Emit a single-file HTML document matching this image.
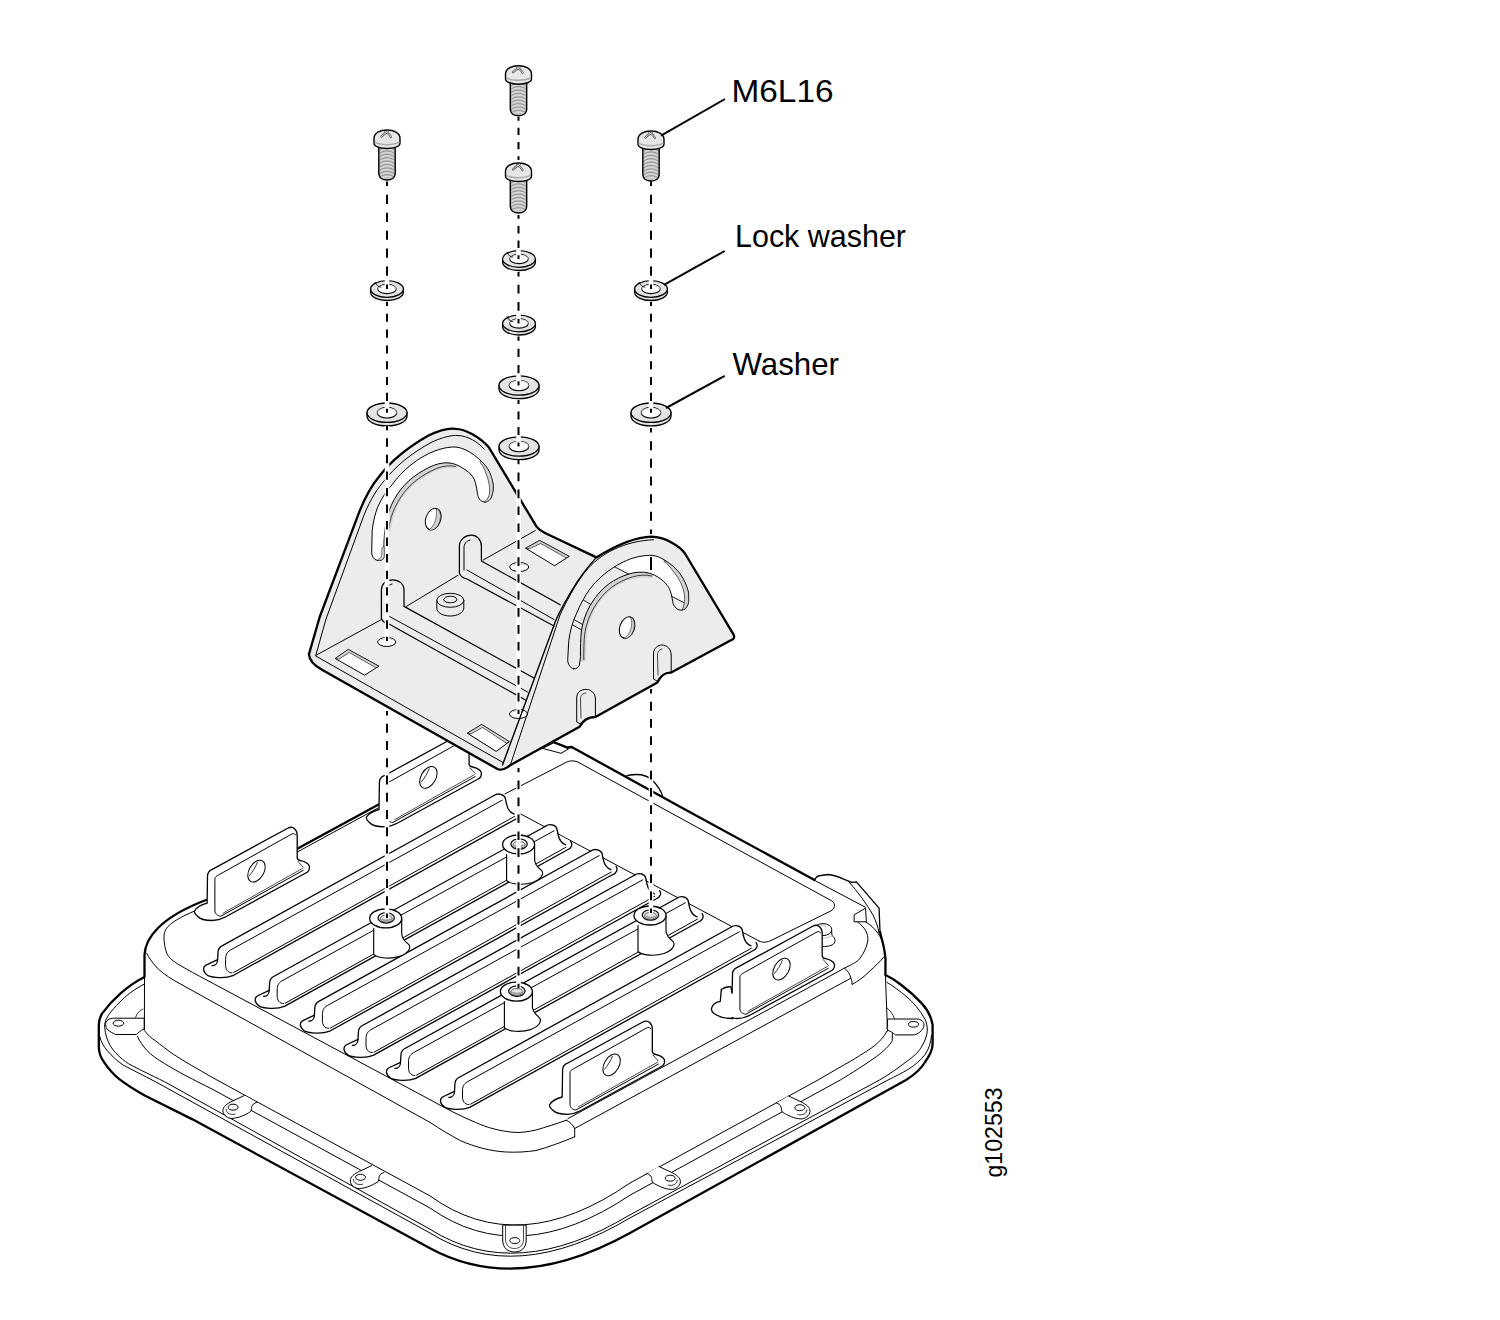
<!DOCTYPE html><html><head><meta charset="utf-8"><style>html,body{margin:0;padding:0;background:#fff;}svg{display:block;font-family:"Liberation Sans",sans-serif;}</style></head><body><svg width="1500" height="1320" viewBox="0 0 1500 1320">
<rect width="1500" height="1320" fill="#fff"/>
<path d="M144.6,977 C128,985 112,1000 102,1013.6 C99.5,1018 98.8,1022 98.8,1025.5 L98.8,1047.3 C99,1053 101,1058 103.8,1061.8 C108,1068 113,1074 119.3,1079.1 C127,1085 135,1090 144.7,1095.5 L192,1119.1 L430,1248.2 Q517.2,1295.5 630,1233 L906,1080 C914,1075 921,1069 925.1,1062 C930,1055 932.6,1050 932.6,1043.9 L932.6,1024.8 C931,1016 927,1009 922,1003.6 C915,996 908,990 900.7,984.5 C895,980 890,977 885.4,975 Z" fill="#fff" stroke="#000" stroke-width="2.3" stroke-linejoin="round" stroke-linecap="round" />
<path d="M144.6,983.9 C135,989 128,994 122,1000 C114,1008 108,1014 105.6,1020.9 C104.5,1024 104.5,1026 104.7,1027.3 C105.5,1035 107,1040 110.2,1045.5 C114,1052 120,1058 128.4,1063.6 C138,1069 151,1075 164.7,1081.8 L430,1229.2 Q515.8,1283.5 630,1214.8 L879.5,1080 C890,1074 898,1068 906,1062 C913,1057 919,1052 922,1046 C925,1041 927.3,1035 927.3,1030.1 C927.3,1026 926.5,1022 925.1,1019.5 C920,1010 913,1002 906,996.2 C900,991 893,986 887,982.4" fill="none" stroke="#000" stroke-width="1.0" stroke-linejoin="round" stroke-linecap="round" />
<path d="M99.7,1036.4 C101,1042 104,1047 107.5,1050.9 C112,1056 117,1061 123.8,1065.5 C133,1070 143,1075.5 155.6,1081.8 L430,1233 Q515.4,1286 630,1217.9 L888,1080 C896,1076 902,1073 908.2,1069.4 C915,1065 921,1060 925.1,1054.5 C929,1049 931,1042 931.5,1035.4" fill="none" stroke="#000" stroke-width="1.0" stroke-linejoin="round" stroke-linecap="round" />
<path d="M144.5,1031 L144.5,955 C145,945 150,936 158,928 C168,918 185,908 206,900 L528,723 L879.5,908.6 C882,920 884,935 885,950 L887.5,1031 C885,1045 880,1052 876.4,1056.6 L840.3,1080 L630,1195.2 Q518,1270 430,1208 L212,1089 C190,1077 175,1068 164.7,1063.6 C155,1058 149,1050 144.5,1031 Z" fill="#fff" stroke="none" stroke-width="0" stroke-linejoin="round" stroke-linecap="round" />
<path d="M622,775 C626,775.5 630,774.5 636.4,774.5 C643,774.5 649,777 652.3,780.2 C657,785 661,790 662.5,796 L640,785 Z" fill="#fff" stroke="none" stroke-width="0" stroke-linejoin="round" stroke-linecap="round" />
<path d="M625.5,776.5 C628,775 631,774.5 636.4,774.5 C643,774.5 649,777 652.3,780.2 C657,785 661,790 662.5,796" fill="none" stroke="#000" stroke-width="1.3" stroke-linejoin="round" stroke-linecap="round" />
<path d="M814.5,880 C816,877 818,875.5 820.9,875.5 L828.2,874.5 C834,875 839,877 843.6,879.1 L851.8,882.3 L856.4,881.8 L879.1,908.2 L880,931.8 L860,920 Z" fill="#fff" stroke="none" stroke-width="0" stroke-linejoin="round" stroke-linecap="round" />
<path d="M814.5,880 C816,877 818,875.5 820.9,875.5 L828.2,874.5 C834,875 839,877 843.6,879.1 L851.8,882.3 L856.4,881.8 L879.1,908.2 L880,931.8" fill="none" stroke="#000" stroke-width="1.3" stroke-linejoin="round" stroke-linecap="round" />
<path d="M849,882 C858,892 866,903 873,915 C876,921 878,927 879,933" fill="none" stroke="#000" stroke-width="1.0" stroke-linejoin="round" stroke-linecap="round" />
<path d="M144.5,977 L144.5,955 C145,945 150,936 158,928 C168,918 185,908 206,900" fill="none" stroke="#000" stroke-width="2.3" stroke-linejoin="round" stroke-linecap="round" />
<path d="M144.5,977 L144.4,1030" fill="none" stroke="#000" stroke-width="1.0" stroke-linejoin="round" stroke-linecap="round" />
<path d="M296.8,848.9 L378.6,804.5" fill="none" stroke="#000" stroke-width="2.3" stroke-linejoin="round" stroke-linecap="round" />
<path d="M542.9,748.5 L561,753.3 L568.5,749 L554.7,742.7 Z" fill="#fff" stroke="#000" stroke-width="1.0" stroke-linejoin="round" stroke-linecap="round" />
<path d="M554.7,742.7 L567.5,747.5 L571.7,747 L680,806.7 L814.5,880" fill="none" stroke="#000" stroke-width="2.3" stroke-linejoin="round" stroke-linecap="round" />
<path d="M880,931.8 C880.9,937.3 884.5,945.5 885.5,959.1 L885.4,975" fill="none" stroke="#000" stroke-width="2.3" stroke-linejoin="round" stroke-linecap="round" />
<path d="M885.4,975 L887.5,1031" fill="none" stroke="#000" stroke-width="1.0" stroke-linejoin="round" stroke-linecap="round" />
<path d="M144.7,1030.9 C148,1035 151,1038 155.6,1040.9 C161,1045 167,1050 173.8,1054.5 C185,1062 198,1069 212,1077.3 L430,1195.9 Q518.6,1260 630,1183 L818,1080 C830,1073 842,1066 853,1059.8 C862,1054 869,1050 874.2,1046 C879,1042 884,1037 887,1031.2" fill="none" stroke="#000" stroke-width="1.0" stroke-linejoin="round" stroke-linecap="round" />
<path d="M137.5,1036.4 C140,1042 143,1046 146.5,1050 C151,1055 157,1059 164.7,1063.6 C178,1072 194,1080 212,1089 L430,1208 Q518,1270 630,1195.2 L840.3,1080 C852,1073 866,1064 876.4,1056.6 C884,1051 889,1046 892.3,1040.7 L892.3,1033.3" fill="none" stroke="#000" stroke-width="1.0" stroke-linejoin="round" stroke-linecap="round" />
<path d="M194,911.3 C185,915 175,920 169.3,925.3 C165,929 164,933 164,937.3 C164,943 165,948 166.7,953.3 C169,958 174,962 180,965.3 C188,970 197,975 206.7,980 L430,1099.7 C445,1108 460,1116 475.5,1122.4 C488,1128 500,1131 513.3,1132.3 C521,1133 529,1131.5 536,1130 C546,1127 556,1124 566.4,1120.2" fill="none" stroke="#000" stroke-width="1.0" stroke-linejoin="round" stroke-linecap="round" />
<path d="M146.7,953.3 C149,958 152,962 156,966.7 C161,972 167,976 173.3,980 L430,1122.4 C440,1129 450,1135 460.3,1140.6 C475,1147 490,1151 505.8,1152 C516,1152.5 526,1152 536,1150.5 C549,1147 562,1142 574.7,1136.8" fill="none" stroke="#000" stroke-width="1.0" stroke-linejoin="round" stroke-linecap="round" />
<path d="M566.4,1120.2 C570,1122 573,1125 574.7,1128.5 L574.7,1136.8" fill="none" stroke="#000" stroke-width="1.0" stroke-linejoin="round" stroke-linecap="round" />
<path d="M567.9,1118.6 L844.5,968.1 C851,965 857,962 859.4,959.1 C864,953 867,947 867.9,940 C868,934 866,928 856.4,920.9" fill="none" stroke="#000" stroke-width="1.0" stroke-linejoin="round" stroke-linecap="round" />
<path d="M574.7,1128.5 L850.9,978.2 C852,980 852,982 852,984.5 C858,981 864,977 869,971.8 C875,966 880,962 883.8,957" fill="none" stroke="#000" stroke-width="1.0" stroke-linejoin="round" stroke-linecap="round" />
<path d="M844.5,968.1 C848,971 850,974 850.9,978.2" fill="none" stroke="#000" stroke-width="1.0" stroke-linejoin="round" stroke-linecap="round" />
<path d="M865.5,921.8 C871,925 875,929 878.2,933.6 C881,938 883,942 883.6,945.5" fill="none" stroke="#000" stroke-width="1.0" stroke-linejoin="round" stroke-linecap="round" />
<path d="M297.3,852 L378,808" fill="none" stroke="#000" stroke-width="1.0" stroke-linejoin="round" stroke-linecap="round" />
<path d="M505,793.9 L567,761.9 C570,760.5 574,760.5 577.6,761.9 L831.8,900.9 C834,902.5 835,904.5 834.5,906.4 C834,908.5 832.5,910 830.9,910.9 L772,940 C767,942.5 763,943 759,941" fill="none" stroke="#000" stroke-width="1.0" stroke-linejoin="round" stroke-linecap="round" />
<path d="M600,773.4 L680,817" fill="none" stroke="#000" stroke-width="0" stroke-linejoin="round" stroke-linecap="round" />
<path d="M815.5,880.9 L865.5,907.3" fill="none" stroke="#000" stroke-width="1.0" stroke-linejoin="round" stroke-linecap="round" />
<path d="M854.5,914.6 L865.5,908.2 L866.4,921.8 L854.5,921.8 Z" fill="#fff" stroke="#000" stroke-width="1.0" stroke-linejoin="round" stroke-linecap="round" />
<path d="M507,806.7 L759,941" fill="none" stroke="#000" stroke-width="1.0" stroke-linejoin="round" stroke-linecap="round" />
<path d="M600,773.4 L572,760" fill="none" stroke="#000" stroke-width="0" stroke-linejoin="round" stroke-linecap="round" />
<path d="M143.8,1018.2 L114.7,1018.2 C109,1018.2 105.6,1020.5 105.6,1024.5 C105.6,1029 109,1031.5 115.6,1034.5 L136.5,1034.5 C138.5,1032.5 140,1030.9 143.8,1029.1 Z" fill="#fff" stroke="#000" stroke-width="1.0" stroke-linejoin="round" stroke-linecap="round" />
<path d="M135.6,1017.3 C137,1013 139.5,1010.5 142.9,1009.1" fill="none" stroke="#000" stroke-width="0.8" stroke-linejoin="round" stroke-linecap="round" />
<ellipse cx="118.4" cy="1023.2" rx="5.3" ry="3" fill="#fff" stroke="#000" stroke-width="1.0"/>
<path d="M888,1019 L916.6,1019 C921,1019 924,1021.5 924,1024.8 C924,1029 920,1033 914.5,1034.9 L895.4,1034.9 C893,1033 890.5,1031 887.5,1030 Z" fill="#fff" stroke="#000" stroke-width="1.0" stroke-linejoin="round" stroke-linecap="round" />
<path d="M887,1007.9 C890,1010.5 893,1014 894.4,1018.5" fill="none" stroke="#000" stroke-width="0.8" stroke-linejoin="round" stroke-linecap="round" />
<ellipse cx="913.5" cy="1024.3" rx="5" ry="2.8" fill="#fff" stroke="#000" stroke-width="1.0"/>
<path d="M502.7,1225.5 L502.7,1240 C502.7,1248 508,1252 514.5,1252 C521,1252 526.2,1248 526.2,1240 L526.2,1225.5 Z" fill="#fff" stroke="#000" stroke-width="1.0" stroke-linejoin="round" stroke-linecap="round" />
<path d="M505.5,1226 L505.5,1239 C505.5,1245 509,1248.5 514.5,1248.5 C520,1248.5 523.5,1245 523.5,1239 L523.5,1226" fill="none" stroke="#000" stroke-width="0.7" stroke-linejoin="round" stroke-linecap="round" />
<ellipse cx="514.8" cy="1240.6" rx="5" ry="3" fill="#fff" stroke="#000" stroke-width="1.0"/>
<path d="M244.3,1095.5 L232.0,1101.3 C227.1,1103.7 222.6,1106.7 222.9,1110.9 C223.1,1115.2 228.1,1118.7 232.0,1118.4 C238.1,1118.2 245.1,1115.2 250.7,1111.5 C251.6,1109.2 251.6,1107.7 251.7,1106.7 C252.6,1104.2 254.1,1103.2 256.5,1102.4 L244.3,1095.5 Z" fill="#fff" stroke="none" stroke-width="0" stroke-linejoin="round" stroke-linecap="round" />
<path d="M244.3,1095.5 L232.0,1101.3 C227.1,1103.7 222.6,1106.7 222.9,1110.9 C223.1,1115.2 228.1,1118.7 232.0,1118.4 C238.1,1118.2 245.1,1115.2 250.7,1111.5 C251.6,1109.2 251.6,1107.7 251.7,1106.7 C252.6,1104.2 254.1,1103.2 256.5,1102.4" fill="none" stroke="#000" stroke-width="1.0" stroke-linejoin="round" stroke-linecap="round" />
<path d="M226.1,1109.2 C226.1,1113.2 230.1,1115.2 235.1,1114.2" fill="none" stroke="#000" stroke-width="0.8" stroke-linejoin="round" stroke-linecap="round" />
<ellipse cx="233.1" cy="1107.2" rx="5" ry="3" fill="#fff" stroke="#000" stroke-width="1.0"/>
<path d="M371.7,1165.6 L359.4,1171.4 C354.5,1173.8 350.0,1176.8 350.3,1181.0 C350.5,1185.3 355.5,1188.8 359.4,1188.5 C365.5,1188.3 372.5,1185.3 378.1,1181.6 C379.0,1179.3 379.0,1177.8 379.1,1176.8 C380.0,1174.3 381.5,1173.3 383.9,1172.5 L371.7,1165.6 Z" fill="#fff" stroke="none" stroke-width="0" stroke-linejoin="round" stroke-linecap="round" />
<path d="M371.7,1165.6 L359.4,1171.4 C354.5,1173.8 350.0,1176.8 350.3,1181.0 C350.5,1185.3 355.5,1188.8 359.4,1188.5 C365.5,1188.3 372.5,1185.3 378.1,1181.6 C379.0,1179.3 379.0,1177.8 379.1,1176.8 C380.0,1174.3 381.5,1173.3 383.9,1172.5" fill="none" stroke="#000" stroke-width="1.0" stroke-linejoin="round" stroke-linecap="round" />
<path d="M353.5,1179.3 C353.5,1183.3 357.5,1185.3 362.5,1184.3" fill="none" stroke="#000" stroke-width="0.8" stroke-linejoin="round" stroke-linecap="round" />
<ellipse cx="360.5" cy="1177.3" rx="5" ry="3" fill="#fff" stroke="#000" stroke-width="1.0"/>
<path d="M659.0,1166.5 L671.3,1172.3 C676.2,1174.7 680.7,1177.7 680.4,1181.9 C680.2,1186.2 675.2,1189.7 671.3,1189.4 C665.2,1189.2 658.2,1186.2 652.6,1182.5 C651.7,1180.2 651.7,1178.7 651.6,1177.7 C650.7,1175.2 649.2,1174.2 646.8,1173.4 L659.0,1166.5 Z" fill="#fff" stroke="none" stroke-width="0" stroke-linejoin="round" stroke-linecap="round" />
<path d="M659.0,1166.5 L671.3,1172.3 C676.2,1174.7 680.7,1177.7 680.4,1181.9 C680.2,1186.2 675.2,1189.7 671.3,1189.4 C665.2,1189.2 658.2,1186.2 652.6,1182.5 C651.7,1180.2 651.7,1178.7 651.6,1177.7 C650.7,1175.2 649.2,1174.2 646.8,1173.4" fill="none" stroke="#000" stroke-width="1.0" stroke-linejoin="round" stroke-linecap="round" />
<path d="M677.2,1180.2 C677.2,1184.2 673.2,1186.2 668.2,1185.2" fill="none" stroke="#000" stroke-width="0.8" stroke-linejoin="round" stroke-linecap="round" />
<ellipse cx="670.2" cy="1178.2" rx="5" ry="3" fill="#fff" stroke="#000" stroke-width="1.0"/>
<path d="M788.6,1096.0 L800.9,1101.8 C805.8,1104.2 810.3,1107.2 810.0,1111.4 C809.8,1115.7 804.8,1119.2 800.9,1118.9 C794.8,1118.7 787.8,1115.7 782.2,1112.0 C781.3,1109.7 781.3,1108.2 781.2,1107.2 C780.3,1104.7 778.8,1103.7 776.4,1102.9 L788.6,1096.0 Z" fill="#fff" stroke="none" stroke-width="0" stroke-linejoin="round" stroke-linecap="round" />
<path d="M788.6,1096.0 L800.9,1101.8 C805.8,1104.2 810.3,1107.2 810.0,1111.4 C809.8,1115.7 804.8,1119.2 800.9,1118.9 C794.8,1118.7 787.8,1115.7 782.2,1112.0 C781.3,1109.7 781.3,1108.2 781.2,1107.2 C780.3,1104.7 778.8,1103.7 776.4,1102.9" fill="none" stroke="#000" stroke-width="1.0" stroke-linejoin="round" stroke-linecap="round" />
<path d="M806.8,1109.7 C806.8,1113.7 802.8,1115.7 797.8,1114.7" fill="none" stroke="#000" stroke-width="0.8" stroke-linejoin="round" stroke-linecap="round" />
<ellipse cx="799.8" cy="1107.7" rx="5" ry="3" fill="#fff" stroke="#000" stroke-width="1.0"/>
<path d="M194.5,911.0 C196.5,907.0 202.5,904.5 207.1,903.2 L207.5,876.3 C207.5,873.0 209.5,870.5 212.3,869.4 L287.7,828.2 C290.0,827.0 293.0,827.2 294.6,828.7 C296.3,830.2 297.2,833.0 297.2,835.6 L297.2,858.1 C297.5,859.5 299.0,860.4 300.6,860.7 C304.5,861.5 308.0,863.0 309.3,865.9 C310.0,868.5 309.0,870.5 307.6,872.0 L225.3,917.0 C220.5,919.5 216.5,920.5 212.3,920.5 C205.5,920.5 199.5,918.5 197.5,916.2 C195.5,914.5 194.0,912.5 194.5,911.0 Z" fill="#fff" stroke="#000" stroke-width="1.3" stroke-linejoin="round" stroke-linecap="round" />
<path d="M295.5,834.7 C294.5,833.5 293.0,833.4 292.0,833.9 L219.2,874.6 C216.5,876.0 214.9,877.0 214.9,878.9 L214.9,911.0 C214.9,913.5 217.5,916.0 220.9,916.2 L303.3,870.3" fill="none" stroke="#000" stroke-width="1.0" stroke-linejoin="round" stroke-linecap="round" />
<path d="M223.0,913.2 L302.5,868.4" fill="none" stroke="#000" stroke-width="0.7" stroke-linejoin="round" stroke-linecap="round" />
<path d="M298.1,861.5 C299.5,863.5 301.5,865.0 303.3,867.2" fill="none" stroke="#000" stroke-width="0.8" stroke-linejoin="round" stroke-linecap="round" />
<ellipse cx="256.5" cy="871.1" rx="7.4" ry="11.8" transform="rotate(30 256.5 871.1)" fill="#fff" stroke="#000" stroke-width="1.0"/>
<path d="M249.5,875.5 C252.5,872.0 255.5,867.0 257.3,862.5" fill="none" stroke="#000" stroke-width="0.8" stroke-linejoin="round" stroke-linecap="round" />
<path d="M366.4,817.3 C368.4,813.3 374.4,810.8 379.0,809.5 L379.4,782.6 C379.4,779.3 381.4,776.8 384.2,775.7 L459.6,734.5 C461.9,733.3 464.9,733.5 466.5,735.0 C468.2,736.5 469.1,739.3 469.1,741.9 L469.1,764.4 C469.4,765.8 470.9,766.7 472.5,767.0 C476.4,767.8 479.9,769.3 481.2,772.2 C481.9,774.8 480.9,776.8 479.5,778.3 L397.2,823.3 C392.4,825.8 388.4,826.8 384.2,826.8 C377.4,826.8 371.4,824.8 369.4,822.5 C367.4,820.8 365.9,818.8 366.4,817.3 Z" fill="#fff" stroke="#000" stroke-width="1.3" stroke-linejoin="round" stroke-linecap="round" />
<path d="M467.4,741.0 C466.4,739.8 464.9,739.7 463.9,740.2 L391.1,780.9 C388.4,782.3 386.8,783.3 386.8,785.2 L386.8,817.3 C386.8,819.8 389.4,822.3 392.8,822.5 L475.2,776.6" fill="none" stroke="#000" stroke-width="1.0" stroke-linejoin="round" stroke-linecap="round" />
<path d="M394.9,819.5 L474.4,774.7" fill="none" stroke="#000" stroke-width="0.7" stroke-linejoin="round" stroke-linecap="round" />
<path d="M470.0,767.8 C471.4,769.8 473.4,771.3 475.2,773.5" fill="none" stroke="#000" stroke-width="0.8" stroke-linejoin="round" stroke-linecap="round" />
<ellipse cx="428.4" cy="777.4" rx="7.4" ry="11.8" transform="rotate(30 428.4 777.4)" fill="#fff" stroke="#000" stroke-width="1.0"/>
<path d="M421.4,781.8 C424.4,778.3 427.4,773.3 429.2,768.8" fill="none" stroke="#000" stroke-width="0.8" stroke-linejoin="round" stroke-linecap="round" />
<path d="M221.6,946.1 L494.0,795.5 C499.0,792.5 505.0,795.5 506.0,803.5 L519.2,810.9 C521.2,813.6 520.2,817.6 515.5,819.3 L232.8,975.7 C225.6,978.7 212.6,977.9 208.0,975.7 C202.6,972.3 202.6,967.3 205.6,965.3 L217.6,959.7 L217.6,952.5 C218.1,949.3 219.6,947.3 221.6,946.1 Z" fill="#fff" stroke="none" stroke-width="0" stroke-linejoin="round" stroke-linecap="round" />
<path d="M494.0,795.5 L221.6,946.1 C219.6,947.3 218.1,949.3 218.0,952.5 L217.6,959.7 C217.6,963.3 215.1,965.7 212.0,965.7" fill="none" stroke="#000" stroke-width="1.3" stroke-linejoin="round" stroke-linecap="round" />
<path d="M217.6,959.7 L205.6,965.3 C202.6,967.3 202.6,972.3 208.0,975.7 C212.6,977.9 225.6,978.7 232.8,975.7 L515.5,819.3 C520.2,817.6 521.2,813.6 519.2,810.9" fill="none" stroke="#000" stroke-width="1.3" stroke-linejoin="round" stroke-linecap="round" />
<path d="M494.0,795.5 C498.0,792.5 504.0,794.5 505.2,797.8 L506.6,804.3 C507.5,808.5 510.0,812.5 514.1,814.1" fill="none" stroke="#000" stroke-width="1.3" stroke-linejoin="round" stroke-linecap="round" />
<path d="M502.4,800.1 L230.4,950.1 C226.6,952.3 225.6,955.3 225.6,959.3 L225.6,965.3 C225.6,969.3 227.6,972.9 232.0,972.9" fill="none" stroke="#000" stroke-width="1.0" stroke-linejoin="round" stroke-linecap="round" />
<path d="M233.6,972.5 L514.5,816.5" fill="none" stroke="#000" stroke-width="1.0" stroke-linejoin="round" stroke-linecap="round" />
<path d="M273.2,976.8 L545.6,826.2 C550.6,823.2 556.6,826.2 557.6,834.2 L570.8,841.6 C572.8,844.3 571.8,848.3 567.1,850.0 L284.4,1006.4 C277.2,1009.4 264.2,1008.6 259.6,1006.4 C254.2,1003.0 254.2,998.0 257.2,996.0 L269.2,990.4 L269.2,983.2 C269.7,980.0 271.2,978.0 273.2,976.8 Z" fill="#fff" stroke="none" stroke-width="0" stroke-linejoin="round" stroke-linecap="round" />
<path d="M545.6,826.2 L273.2,976.8 C271.2,978.0 269.7,980.0 269.6,983.2 L269.2,990.4 C269.2,994.0 266.7,996.4 263.6,996.4" fill="none" stroke="#000" stroke-width="1.3" stroke-linejoin="round" stroke-linecap="round" />
<path d="M269.2,990.4 L257.2,996.0 C254.2,998.0 254.2,1003.0 259.6,1006.4 C264.2,1008.6 277.2,1009.4 284.4,1006.4 L567.1,850.0 C571.8,848.3 572.8,844.3 570.8,841.6" fill="none" stroke="#000" stroke-width="1.3" stroke-linejoin="round" stroke-linecap="round" />
<path d="M545.6,826.2 C549.6,823.2 555.6,825.2 556.8,828.5 L558.2,835.0 C559.1,839.2 561.6,843.2 565.7,844.8" fill="none" stroke="#000" stroke-width="1.3" stroke-linejoin="round" stroke-linecap="round" />
<path d="M554.0,830.8 L282.0,980.8 C278.2,983.0 277.2,986.0 277.2,990.0 L277.2,996.0 C277.2,1000.0 279.2,1003.6 283.6,1003.6" fill="none" stroke="#000" stroke-width="1.0" stroke-linejoin="round" stroke-linecap="round" />
<path d="M285.2,1003.2 L566.1,847.2" fill="none" stroke="#000" stroke-width="1.0" stroke-linejoin="round" stroke-linecap="round" />
<path d="M318.4,1001.6 L590.8,851.0 C595.8,848.0 601.8,851.0 602.8,859.0 L616.0,866.4 C618.0,869.1 617.0,873.1 612.3,874.8 L329.6,1031.2 C322.4,1034.2 309.4,1033.4 304.8,1031.2 C299.4,1027.8 299.4,1022.8 302.4,1020.8 L314.4,1015.2 L314.4,1008.0 C314.9,1004.8 316.4,1002.8 318.4,1001.6 Z" fill="#fff" stroke="none" stroke-width="0" stroke-linejoin="round" stroke-linecap="round" />
<path d="M590.8,851.0 L318.4,1001.6 C316.4,1002.8 314.9,1004.8 314.8,1008.0 L314.4,1015.2 C314.4,1018.8 311.9,1021.2 308.8,1021.2" fill="none" stroke="#000" stroke-width="1.3" stroke-linejoin="round" stroke-linecap="round" />
<path d="M314.4,1015.2 L302.4,1020.8 C299.4,1022.8 299.4,1027.8 304.8,1031.2 C309.4,1033.4 322.4,1034.2 329.6,1031.2 L612.3,874.8 C617.0,873.1 618.0,869.1 616.0,866.4" fill="none" stroke="#000" stroke-width="1.3" stroke-linejoin="round" stroke-linecap="round" />
<path d="M590.8,851.0 C594.8,848.0 600.8,850.0 602.0,853.3 L603.4,859.8 C604.3,864.0 606.8,868.0 610.9,869.6" fill="none" stroke="#000" stroke-width="1.3" stroke-linejoin="round" stroke-linecap="round" />
<path d="M599.2,855.6 L327.2,1005.6 C323.4,1007.8 322.4,1010.8 322.4,1014.8 L322.4,1020.8 C322.4,1024.8 324.4,1028.4 328.8,1028.4" fill="none" stroke="#000" stroke-width="1.0" stroke-linejoin="round" stroke-linecap="round" />
<path d="M330.4,1028.0 L611.3,872.0" fill="none" stroke="#000" stroke-width="1.0" stroke-linejoin="round" stroke-linecap="round" />
<path d="M362.0,1025.8 L634.4,875.2 C639.4,872.2 645.4,875.2 646.4,883.2 L659.6,890.6 C661.6,893.3 660.6,897.3 655.9,899.0 L373.2,1055.4 C366.0,1058.4 353.0,1057.6 348.4,1055.4 C343.0,1052.0 343.0,1047.0 346.0,1045.0 L358.0,1039.4 L358.0,1032.2 C358.5,1029.0 360.0,1027.0 362.0,1025.8 Z" fill="#fff" stroke="none" stroke-width="0" stroke-linejoin="round" stroke-linecap="round" />
<path d="M634.4,875.2 L362.0,1025.8 C360.0,1027.0 358.5,1029.0 358.4,1032.2 L358.0,1039.4 C358.0,1043.0 355.5,1045.4 352.4,1045.4" fill="none" stroke="#000" stroke-width="1.3" stroke-linejoin="round" stroke-linecap="round" />
<path d="M358.0,1039.4 L346.0,1045.0 C343.0,1047.0 343.0,1052.0 348.4,1055.4 C353.0,1057.6 366.0,1058.4 373.2,1055.4 L655.9,899.0 C660.6,897.3 661.6,893.3 659.6,890.6" fill="none" stroke="#000" stroke-width="1.3" stroke-linejoin="round" stroke-linecap="round" />
<path d="M634.4,875.2 C638.4,872.2 644.4,874.2 645.6,877.5 L647.0,884.0 C647.9,888.2 650.4,892.2 654.5,893.8" fill="none" stroke="#000" stroke-width="1.3" stroke-linejoin="round" stroke-linecap="round" />
<path d="M642.8,879.8 L370.8,1029.8 C367.0,1032.0 366.0,1035.0 366.0,1039.0 L366.0,1045.0 C366.0,1049.0 368.0,1052.6 372.4,1052.6" fill="none" stroke="#000" stroke-width="1.0" stroke-linejoin="round" stroke-linecap="round" />
<path d="M374.0,1052.2 L654.9,896.2" fill="none" stroke="#000" stroke-width="1.0" stroke-linejoin="round" stroke-linecap="round" />
<path d="M404.5,1048.8 L676.9,898.2 C681.9,895.2 687.9,898.2 688.9,906.2 L702.1,913.6 C704.1,916.3 703.1,920.3 698.4,922.0 L415.7,1078.4 C408.5,1081.4 395.5,1080.6 390.9,1078.4 C385.5,1075.0 385.5,1070.0 388.5,1068.0 L400.5,1062.4 L400.5,1055.2 C401.0,1052.0 402.5,1050.0 404.5,1048.8 Z" fill="#fff" stroke="none" stroke-width="0" stroke-linejoin="round" stroke-linecap="round" />
<path d="M676.9,898.2 L404.5,1048.8 C402.5,1050.0 401.0,1052.0 400.9,1055.2 L400.5,1062.4 C400.5,1066.0 398.0,1068.4 394.9,1068.4" fill="none" stroke="#000" stroke-width="1.3" stroke-linejoin="round" stroke-linecap="round" />
<path d="M400.5,1062.4 L388.5,1068.0 C385.5,1070.0 385.5,1075.0 390.9,1078.4 C395.5,1080.6 408.5,1081.4 415.7,1078.4 L698.4,922.0 C703.1,920.3 704.1,916.3 702.1,913.6" fill="none" stroke="#000" stroke-width="1.3" stroke-linejoin="round" stroke-linecap="round" />
<path d="M676.9,898.2 C680.9,895.2 686.9,897.2 688.1,900.5 L689.5,907.0 C690.4,911.2 692.9,915.2 697.0,916.8" fill="none" stroke="#000" stroke-width="1.3" stroke-linejoin="round" stroke-linecap="round" />
<path d="M685.3,902.8 L413.3,1052.8 C409.5,1055.0 408.5,1058.0 408.5,1062.0 L408.5,1068.0 C408.5,1072.0 410.5,1075.6 414.9,1075.6" fill="none" stroke="#000" stroke-width="1.0" stroke-linejoin="round" stroke-linecap="round" />
<path d="M416.5,1075.2 L697.4,919.2" fill="none" stroke="#000" stroke-width="1.0" stroke-linejoin="round" stroke-linecap="round" />
<path d="M458.5,1077.8 L730.9,927.2 C735.9,924.2 741.9,927.2 742.9,935.2 L756.1,942.6 C758.1,945.3 757.1,949.3 752.4,951.0 L469.7,1107.4 C462.5,1110.4 449.5,1109.6 444.9,1107.4 C439.5,1104.0 439.5,1099.0 442.5,1097.0 L454.5,1091.4 L454.5,1084.2 C455.0,1081.0 456.5,1079.0 458.5,1077.8 Z" fill="#fff" stroke="none" stroke-width="0" stroke-linejoin="round" stroke-linecap="round" />
<path d="M730.9,927.2 L458.5,1077.8 C456.5,1079.0 455.0,1081.0 454.9,1084.2 L454.5,1091.4 C454.5,1095.0 452.0,1097.4 448.9,1097.4" fill="none" stroke="#000" stroke-width="1.3" stroke-linejoin="round" stroke-linecap="round" />
<path d="M454.5,1091.4 L442.5,1097.0 C439.5,1099.0 439.5,1104.0 444.9,1107.4 C449.5,1109.6 462.5,1110.4 469.7,1107.4 L752.4,951.0 C757.1,949.3 758.1,945.3 756.1,942.6" fill="none" stroke="#000" stroke-width="1.3" stroke-linejoin="round" stroke-linecap="round" />
<path d="M730.9,927.2 C734.9,924.2 740.9,926.2 742.1,929.5 L743.5,936.0 C744.4,940.2 746.9,944.2 751.0,945.8" fill="none" stroke="#000" stroke-width="1.3" stroke-linejoin="round" stroke-linecap="round" />
<path d="M739.3,931.8 L467.3,1081.8 C463.5,1084.0 462.5,1087.0 462.5,1091.0 L462.5,1097.0 C462.5,1101.0 464.5,1104.6 468.9,1104.6" fill="none" stroke="#000" stroke-width="1.0" stroke-linejoin="round" stroke-linecap="round" />
<path d="M470.5,1104.2 L751.4,948.2" fill="none" stroke="#000" stroke-width="1.0" stroke-linejoin="round" stroke-linecap="round" />
<path d="M373.7,928.4 L373.7,954.4 C377.7,958.4 390.7,959.4 399.7,956.4 C407.7,953.4 411.7,948.4 408.7,944.4 C404.7,941.4 401.7,938.4 401.7,933.4 L401.7,918.4 L369.7,918.4 Z" fill="#fff" stroke="none" stroke-width="0" stroke-linejoin="round" stroke-linecap="round" />
<path d="M373.7,928.4 L373.7,954.4 C377.7,958.4 390.7,959.4 399.7,956.4 C407.7,953.4 411.7,948.4 408.7,944.4 C404.7,941.4 401.7,938.4 401.7,933.4 L401.7,918.4" fill="none" stroke="#000" stroke-width="1.15" stroke-linejoin="round" stroke-linecap="round" />
<ellipse cx="385.7" cy="918.4" rx="16" ry="9.5" fill="#fff" stroke="#000" stroke-width="1.3"/>
<ellipse cx="386.2" cy="917.9" rx="8.2" ry="5.2" fill="#e8e8e8" stroke="#000" stroke-width="1.2"/>
<ellipse cx="386.2" cy="918.7" rx="6" ry="3.4" fill="none" stroke="#555" stroke-width="0.9"/>
<path d="M381.7,918.9 C383.7,920.9 388.7,920.9 390.7,918.9" fill="none" stroke="#999" stroke-width="1.6"/>
<path d="M506.6,854.5 L506.6,880.5 C510.6,884.5 523.6,885.5 532.6,882.5 C540.6,879.5 544.6,874.5 541.6,870.5 C537.6,867.5 534.6,864.5 534.6,859.5 L534.6,844.5 L502.6,844.5 Z" fill="#fff" stroke="none" stroke-width="0" stroke-linejoin="round" stroke-linecap="round" />
<path d="M506.6,854.5 L506.6,880.5 C510.6,884.5 523.6,885.5 532.6,882.5 C540.6,879.5 544.6,874.5 541.6,870.5 C537.6,867.5 534.6,864.5 534.6,859.5 L534.6,844.5" fill="none" stroke="#000" stroke-width="1.15" stroke-linejoin="round" stroke-linecap="round" />
<ellipse cx="518.6" cy="844.5" rx="16" ry="9.5" fill="#fff" stroke="#000" stroke-width="1.3"/>
<ellipse cx="519.1" cy="844.0" rx="8.2" ry="5.2" fill="#e8e8e8" stroke="#000" stroke-width="1.2"/>
<ellipse cx="519.1" cy="844.8" rx="6" ry="3.4" fill="none" stroke="#555" stroke-width="0.9"/>
<path d="M514.6,845.0 C516.6,847.0 521.6,847.0 523.6,845.0" fill="none" stroke="#999" stroke-width="1.6"/>
<path d="M504.4,1001.6 L504.4,1027.6 C508.4,1031.6 521.4,1032.6 530.4,1029.6 C538.4,1026.6 542.4,1021.6 539.4,1017.6 C535.4,1014.6 532.4,1011.6 532.4,1006.6 L532.4,991.6 L500.4,991.6 Z" fill="#fff" stroke="none" stroke-width="0" stroke-linejoin="round" stroke-linecap="round" />
<path d="M504.4,1001.6 L504.4,1027.6 C508.4,1031.6 521.4,1032.6 530.4,1029.6 C538.4,1026.6 542.4,1021.6 539.4,1017.6 C535.4,1014.6 532.4,1011.6 532.4,1006.6 L532.4,991.6" fill="none" stroke="#000" stroke-width="1.15" stroke-linejoin="round" stroke-linecap="round" />
<ellipse cx="516.4" cy="991.6" rx="16" ry="9.5" fill="#fff" stroke="#000" stroke-width="1.3"/>
<ellipse cx="516.9" cy="991.1" rx="8.2" ry="5.2" fill="#e8e8e8" stroke="#000" stroke-width="1.2"/>
<ellipse cx="516.9" cy="991.9" rx="6" ry="3.4" fill="none" stroke="#555" stroke-width="0.9"/>
<path d="M512.4,992.1 C514.4,994.1 519.4,994.1 521.4,992.1" fill="none" stroke="#999" stroke-width="1.6"/>
<path d="M638.0,925.5 L638.0,951.5 C642.0,955.5 655.0,956.5 664.0,953.5 C672.0,950.5 676.0,945.5 673.0,941.5 C669.0,938.5 666.0,935.5 666.0,930.5 L666.0,915.5 L634.0,915.5 Z" fill="#fff" stroke="none" stroke-width="0" stroke-linejoin="round" stroke-linecap="round" />
<path d="M638.0,925.5 L638.0,951.5 C642.0,955.5 655.0,956.5 664.0,953.5 C672.0,950.5 676.0,945.5 673.0,941.5 C669.0,938.5 666.0,935.5 666.0,930.5 L666.0,915.5" fill="none" stroke="#000" stroke-width="1.15" stroke-linejoin="round" stroke-linecap="round" />
<ellipse cx="650.0" cy="915.5" rx="16" ry="9.5" fill="#fff" stroke="#000" stroke-width="1.3"/>
<ellipse cx="650.5" cy="915.0" rx="8.2" ry="5.2" fill="#e8e8e8" stroke="#000" stroke-width="1.2"/>
<ellipse cx="650.5" cy="915.8" rx="6" ry="3.4" fill="none" stroke="#555" stroke-width="0.9"/>
<path d="M646.0,916.0 C648.0,918.0 653.0,918.0 655.0,916.0" fill="none" stroke="#999" stroke-width="1.6"/>
<path d="M814,931 L814,944 C818,947 826,947.5 832,945 C836,943 836,938 832,935.5 L831.5,929.6 Z" fill="#fff" stroke="#000" stroke-width="1.0" stroke-linejoin="round" stroke-linecap="round" />
<ellipse cx="823" cy="929.6" rx="8.8" ry="6" fill="#fff" stroke="#000" stroke-width="1.0"/>
<path d="M815,926 C818,924 823,924 826,927" fill="none" stroke="#888" stroke-width="0.7" stroke-linejoin="round" stroke-linecap="round" />
<path d="M812,936 C818,939 826,939 832,936" fill="none" stroke="#ccc" stroke-width="1.2" stroke-linejoin="round" stroke-linecap="round" />
<path d="M732,992.8 L730.9,986.9 C728,986.5 724,987.5 721.3,989.6 L720.3,1001.3 C716,1002 713,1004 711.7,1007.7 C711,1010 712,1012 714,1013.5 C718,1016.5 725,1018.5 733,1018.5 L740,1018 L740,990 Z" fill="#fff" stroke="none" stroke-width="0" stroke-linejoin="round" stroke-linecap="round" />
<path d="M732,992.8 L730.9,986.9 C728,986.5 724,987.5 721.3,989.6 L720.3,1001.3 C716,1002 713,1004 711.7,1007.7 C711,1010 712,1012 714,1013.5 C718,1016.5 725,1018.5 733,1018.5" fill="none" stroke="#000" stroke-width="1.3" stroke-linejoin="round" stroke-linecap="round" />
<path d="M732.1,993.0 L732.5,974.3 C732.5,971.0 734.5,968.5 737.3,967.4 L812.7,926.2 C815.0,925.0 818.0,925.2 819.6,926.7 C821.3,928.2 822.2,931.0 822.2,933.6 L822.2,956.1 C822.5,957.5 824.0,958.4 825.6,958.7 C829.5,959.5 833.0,961.0 834.3,963.9 C835.0,966.5 834.0,968.5 832.6,970.0 L750.3,1015.0 C745.5,1017.5 741.5,1018.5 737.3,1018.5 C734.5,1018.5 733.0,1018.0 732.3,1017.5 Z" fill="#fff" stroke="none" stroke-width="0" stroke-linejoin="round" stroke-linecap="round" />
<path d="M732.1,993.0 L732.5,974.3 C732.5,971.0 734.5,968.5 737.3,967.4 L812.7,926.2 C815.0,925.0 818.0,925.2 819.6,926.7 C821.3,928.2 822.2,931.0 822.2,933.6 L822.2,956.1 C822.5,957.5 824.0,958.4 825.6,958.7 C829.5,959.5 833.0,961.0 834.3,963.9 C835.0,966.5 834.0,968.5 832.6,970.0 L750.3,1015.0 C745.5,1017.5 741.5,1018.5 737.3,1018.5 C734.5,1018.5 733.0,1018.0 732.3,1017.5" fill="none" stroke="#000" stroke-width="1.3" stroke-linejoin="round" stroke-linecap="round" />
<path d="M820.5,932.7 C819.5,931.5 818.0,931.4 817.0,931.9 L744.2,972.6 C741.5,974.0 739.9,975.0 739.9,976.9 L739.9,1009.0 C739.9,1011.5 742.5,1014.0 745.9,1014.2 L828.3,968.3" fill="none" stroke="#000" stroke-width="1.0" stroke-linejoin="round" stroke-linecap="round" />
<path d="M748.0,1011.2 L827.5,966.4" fill="none" stroke="#000" stroke-width="0.7" stroke-linejoin="round" stroke-linecap="round" />
<path d="M823.1,959.5 C824.5,961.5 826.5,963.0 828.3,965.2" fill="none" stroke="#000" stroke-width="0.8" stroke-linejoin="round" stroke-linecap="round" />
<ellipse cx="781.5" cy="969.1" rx="7.4" ry="11.8" transform="rotate(30 781.5 969.1)" fill="#fff" stroke="#000" stroke-width="1.0"/>
<path d="M774.5,973.5 C777.5,970.0 780.5,965.0 782.3,960.5" fill="none" stroke="#000" stroke-width="0.8" stroke-linejoin="round" stroke-linecap="round" />
<path d="M549.6,1104.8 C551.6,1100.8 557.6,1098.3 562.2,1097.0 L562.6,1070.1 C562.6,1066.8 564.6,1064.3 567.4,1063.2 L642.8,1022.0 C645.1,1020.8 648.1,1021.0 649.7,1022.5 C651.4,1024.0 652.3,1026.8 652.3,1029.4 L652.3,1051.9 C652.6,1053.3 654.1,1054.2 655.7,1054.5 C659.6,1055.3 663.1,1056.8 664.4,1059.7 C665.1,1062.3 664.1,1064.3 662.7,1065.8 L580.4,1110.8 C575.6,1113.3 571.6,1114.3 567.4,1114.3 C560.6,1114.3 554.6,1112.3 552.6,1110.0 C550.6,1108.3 549.1,1106.3 549.6,1104.8 Z" fill="#fff" stroke="#000" stroke-width="1.3" stroke-linejoin="round" stroke-linecap="round" />
<path d="M650.6,1028.5 C649.6,1027.3 648.1,1027.2 647.1,1027.7 L574.3,1068.4 C571.6,1069.8 570.0,1070.8 570.0,1072.7 L570.0,1104.8 C570.0,1107.3 572.6,1109.8 576.0,1110.0 L658.4,1064.1" fill="none" stroke="#000" stroke-width="1.0" stroke-linejoin="round" stroke-linecap="round" />
<path d="M578.1,1107.0 L657.6,1062.2" fill="none" stroke="#000" stroke-width="0.7" stroke-linejoin="round" stroke-linecap="round" />
<path d="M653.2,1055.3 C654.6,1057.3 656.6,1058.8 658.4,1061.0" fill="none" stroke="#000" stroke-width="0.8" stroke-linejoin="round" stroke-linecap="round" />
<ellipse cx="611.6" cy="1064.9" rx="7.4" ry="11.8" transform="rotate(30 611.6 1064.9)" fill="#fff" stroke="#000" stroke-width="1.0"/>
<path d="M604.6,1069.3 C607.6,1065.8 610.6,1060.8 612.4,1056.3" fill="none" stroke="#000" stroke-width="0.8" stroke-linejoin="round" stroke-linecap="round" />
<path d="M370.6,289 L370.6,292.2 A16.4,8.3 0 0 0 403.4,292.2 L403.4,289 Z" fill="#e4e4e4" stroke="#000" stroke-width="1.3"/>
<ellipse cx="387" cy="289" rx="16.4" ry="8.3" fill="#e4e4e4" stroke="#000" stroke-width="1.3"/>
<ellipse cx="387" cy="289" rx="9.3" ry="4.6" fill="#fff" stroke="#000" stroke-width="1.1"/>
<path d="M377.7,289 A9.3,4.6 0 0 1 396.3,289 L396.3,290.5 A9.3,4.6 0 0 0 377.7,290.5 Z" fill="#e4e4e4" stroke="none"/>
<path d="M375,282 C377,286 379,287 381,287" fill="none" stroke="#000" stroke-width="0.9"/>
<path d="M502.6,259 L502.6,262.2 A16.4,8.3 0 0 0 535.4,262.2 L535.4,259 Z" fill="#e4e4e4" stroke="#000" stroke-width="1.3"/>
<ellipse cx="519" cy="259" rx="16.4" ry="8.3" fill="#e4e4e4" stroke="#000" stroke-width="1.3"/>
<ellipse cx="519" cy="259" rx="9.3" ry="4.6" fill="#fff" stroke="#000" stroke-width="1.1"/>
<path d="M509.7,259 A9.3,4.6 0 0 1 528.3,259 L528.3,260.5 A9.3,4.6 0 0 0 509.7,260.5 Z" fill="#e4e4e4" stroke="none"/>
<path d="M507,252 C509,256 511,257 513,257" fill="none" stroke="#000" stroke-width="0.9"/>
<path d="M502.6,323.5 L502.6,326.7 A16.4,8.3 0 0 0 535.4,326.7 L535.4,323.5 Z" fill="#e4e4e4" stroke="#000" stroke-width="1.3"/>
<ellipse cx="519" cy="323.5" rx="16.4" ry="8.3" fill="#e4e4e4" stroke="#000" stroke-width="1.3"/>
<ellipse cx="519" cy="323.5" rx="9.3" ry="4.6" fill="#fff" stroke="#000" stroke-width="1.1"/>
<path d="M509.7,323.5 A9.3,4.6 0 0 1 528.3,323.5 L528.3,325.0 A9.3,4.6 0 0 0 509.7,325.0 Z" fill="#e4e4e4" stroke="none"/>
<path d="M507,316.5 C509,320.5 511,321.5 513,321.5" fill="none" stroke="#000" stroke-width="0.9"/>
<path d="M634.6,289 L634.6,292.2 A16.4,8.3 0 0 0 667.4,292.2 L667.4,289 Z" fill="#e4e4e4" stroke="#000" stroke-width="1.3"/>
<ellipse cx="651" cy="289" rx="16.4" ry="8.3" fill="#e4e4e4" stroke="#000" stroke-width="1.3"/>
<ellipse cx="651" cy="289" rx="9.3" ry="4.6" fill="#fff" stroke="#000" stroke-width="1.1"/>
<path d="M641.7,289 A9.3,4.6 0 0 1 660.3,289 L660.3,290.5 A9.3,4.6 0 0 0 641.7,290.5 Z" fill="#e4e4e4" stroke="none"/>
<path d="M639,282 C641,286 643,287 645,287" fill="none" stroke="#000" stroke-width="0.9"/>
<path d="M367,412.7 L367,416.2 A20,9.7 0 0 0 407,416.2 L407,412.7 Z" fill="#e4e4e4" stroke="#000" stroke-width="1.3"/>
<ellipse cx="387" cy="412.7" rx="20" ry="9.7" fill="#e4e4e4" stroke="#000" stroke-width="1.3"/>
<ellipse cx="387" cy="412.7" rx="9.8" ry="5.3" fill="#fff" stroke="#000" stroke-width="1.1"/>
<path d="M377.2,412.7 A9.8,5.3 0 0 1 396.8,412.7 L396.8,414.2 A9.8,5.3 0 0 0 377.2,414.2 Z" fill="#e4e4e4" stroke="none"/>
<path d="M499,385.5 L499,389.0 A20,9.7 0 0 0 539,389.0 L539,385.5 Z" fill="#e4e4e4" stroke="#000" stroke-width="1.3"/>
<ellipse cx="519" cy="385.5" rx="20" ry="9.7" fill="#e4e4e4" stroke="#000" stroke-width="1.3"/>
<ellipse cx="519" cy="385.5" rx="9.8" ry="5.3" fill="#fff" stroke="#000" stroke-width="1.1"/>
<path d="M509.2,385.5 A9.8,5.3 0 0 1 528.8,385.5 L528.8,387.0 A9.8,5.3 0 0 0 509.2,387.0 Z" fill="#e4e4e4" stroke="none"/>
<path d="M499,446.5 L499,450.0 A20,9.7 0 0 0 539,450.0 L539,446.5 Z" fill="#e4e4e4" stroke="#000" stroke-width="1.3"/>
<ellipse cx="519" cy="446.5" rx="20" ry="9.7" fill="#e4e4e4" stroke="#000" stroke-width="1.3"/>
<ellipse cx="519" cy="446.5" rx="9.8" ry="5.3" fill="#fff" stroke="#000" stroke-width="1.1"/>
<path d="M509.2,446.5 A9.8,5.3 0 0 1 528.8,446.5 L528.8,448.0 A9.8,5.3 0 0 0 509.2,448.0 Z" fill="#e4e4e4" stroke="none"/>
<path d="M631,412.7 L631,416.2 A20,9.7 0 0 0 671,416.2 L671,412.7 Z" fill="#e4e4e4" stroke="#000" stroke-width="1.3"/>
<ellipse cx="651" cy="412.7" rx="20" ry="9.7" fill="#e4e4e4" stroke="#000" stroke-width="1.3"/>
<ellipse cx="651" cy="412.7" rx="9.8" ry="5.3" fill="#fff" stroke="#000" stroke-width="1.1"/>
<path d="M641.2,412.7 A9.8,5.3 0 0 1 660.8,412.7 L660.8,414.2 A9.8,5.3 0 0 0 641.2,414.2 Z" fill="#e4e4e4" stroke="none"/>
<line x1="651" y1="181.5" x2="651" y2="289" stroke="#fff" stroke-width="4.6"/>
<line x1="651" y1="181.5" x2="651" y2="289" stroke="#000" stroke-width="2" stroke-dasharray="9.138 8.779" stroke-dashoffset="-13.348"/>
<line x1="651" y1="302" x2="651" y2="412.7" stroke="#fff" stroke-width="4.6"/>
<line x1="651" y1="302" x2="651" y2="412.7" stroke="#000" stroke-width="2" stroke-dasharray="8.065 7.749" stroke-dashoffset="-11.782"/>
<line x1="651" y1="428" x2="651" y2="534" stroke="#fff" stroke-width="4.6"/>
<line x1="651" y1="428" x2="651" y2="534" stroke="#000" stroke-width="2" stroke-dasharray="9.010 8.657" stroke-dashoffset="-13.162"/>
<line x1="651" y1="689" x2="651" y2="913" stroke="#fff" stroke-width="4.6"/>
<line x1="651" y1="689" x2="651" y2="913" stroke="#000" stroke-width="2" stroke-dasharray="8.788 8.443" stroke-dashoffset="-12.837"/>
<path d="M308.9,654.4 L319.7,617 L359,512.6 C366,495 372,485 378.8,477 C390,462 405,449 428,435.8 C440,430 450,428 455.6,428.9 C465,429 480,437 489,447.6 L536.4,526.4 C539,530 541,531 545,533 L596.4,557.4 C615,546 635,537 651.5,536.7 C665,537 680,546 685,553.5 L733.3,634.2 C735,637 734,639 731.3,640.1 L671.2,672.6 C665,672 660,677 657.4,682.5 L595.4,717 C588,717 583,720 579.6,726.8 L509.7,765.5 C507,768.5 501,770.5 497.9,769.3 L322,669.8 C315,666 309.5,661 308.9,654.4 Z" fill="#ebeceb" stroke="#000" stroke-width="2.3" stroke-linejoin="round" stroke-linecap="round" />
<path d="M315.8,655.4 L326,619 L364,515 C371,498 378,488 384,481 C396,466 410,454 432,442 C443,437 452,435 458,435.5 C468,436 478,442 484,449" fill="none" stroke="#000" stroke-width="1.0" stroke-linejoin="round" stroke-linecap="round" />
<path d="M315.8,655.4 L380.6,620 M406.4,606.4 L457.9,575.3 M482.9,560.2 L535.2,530.6" fill="none" stroke="#000" stroke-width="1.0" stroke-linejoin="round" stroke-linecap="round" />
<path d="M315.8,656 L503,762.5" fill="none" stroke="#000" stroke-width="1.0" stroke-linejoin="round" stroke-linecap="round" />
<path d="M381.4,618.5 L381.4,590 C381.4,584 386,579.8 392.7,579.8 C399,579.8 404,584 404,590 L404,606.4 L534.4,678.3" fill="none" stroke="#000" stroke-width="1.25" stroke-linejoin="round" stroke-linecap="round" />
<path d="M386,614 L386,592 C386,588 388,585 392,584" fill="none" stroke="#000" stroke-width="1.0" stroke-linejoin="round" stroke-linecap="round" />
<path d="M389,616.2 L527.6,692" fill="none" stroke="#000" stroke-width="1.0" stroke-linejoin="round" stroke-linecap="round" />
<path d="M381.4,618.5 C382,621 385,623 389,624 L526,700.3" fill="none" stroke="#000" stroke-width="1.25" stroke-linejoin="round" stroke-linecap="round" />
<path d="M459.4,573 L459.4,546 C459.4,540 465,535.2 471.5,535.2 C477,535.2 481.4,540 481.4,546 L481.4,561 L560.2,604.8" fill="none" stroke="#000" stroke-width="1.25" stroke-linejoin="round" stroke-linecap="round" />
<path d="M464,570 L464,548 C464,544 466,541 470,540" fill="none" stroke="#000" stroke-width="1.0" stroke-linejoin="round" stroke-linecap="round" />
<path d="M467,570 L554,619.5" fill="none" stroke="#000" stroke-width="1.0" stroke-linejoin="round" stroke-linecap="round" />
<path d="M459.4,573 C460,576 463,578 467,579 L554,626" fill="none" stroke="#000" stroke-width="1.25" stroke-linejoin="round" stroke-linecap="round" />
<path d="M335.5,658.3 L348.3,649.5 L378.8,666.2 L365.0,675.0 Z" fill="#fff" stroke="#000" stroke-width="1.0" stroke-linejoin="round" stroke-linecap="round" />
<path d="M335.5,658.3 L348.3,649.5 L378.8,666.2 L375.8,667.7 L349.3,652.5 L339.5,658.8 Z" fill="#d4d4d4" stroke="#000" stroke-width="0.6" stroke-linejoin="round" stroke-linecap="round" />
<path d="M467.7,733.0 L481.6,724.5 L509.3,741.6 L496.5,751.2 Z" fill="#fff" stroke="#000" stroke-width="1.0" stroke-linejoin="round" stroke-linecap="round" />
<path d="M467.7,733.0 L481.6,724.5 L509.3,741.6 L506.3,743.1 L482.6,727.5 L471.7,733.5 Z" fill="#d4d4d4" stroke="#000" stroke-width="0.6" stroke-linejoin="round" stroke-linecap="round" />
<path d="M526.0,548.0 L539.7,540.5 L569.2,556.4 L554.8,565.5 Z" fill="#fff" stroke="#000" stroke-width="1.0" stroke-linejoin="round" stroke-linecap="round" />
<path d="M526.0,548.0 L539.7,540.5 L569.2,556.4 L566.2,557.9 L540.7,543.5 L530.0,548.5 Z" fill="#d4d4d4" stroke="#000" stroke-width="0.6" stroke-linejoin="round" stroke-linecap="round" />
<ellipse cx="386.7" cy="642" rx="9" ry="4.5" fill="#fff" stroke="#000" stroke-width="1.0"/>
<path d="M378.2,642 A8.5,4.0 0 0 1 395.2,642 A8.5,2.5 0 0 0 378.2,642 Z" fill="#d3d3d3" stroke="none"/>
<ellipse cx="519.2" cy="567" rx="9.5" ry="4.5" fill="#fff" stroke="#000" stroke-width="1.0"/>
<path d="M510.20000000000005,567 A9.0,4.0 0 0 1 528.2,567 A9.0,2.5 0 0 0 510.20000000000005,567 Z" fill="#d3d3d3" stroke="none"/>
<ellipse cx="518.5" cy="714" rx="9" ry="4.5" fill="#fff" stroke="#000" stroke-width="1.0"/>
<path d="M510.0,714 A8.5,4.0 0 0 1 527.0,714 A8.5,2.5 0 0 0 510.0,714 Z" fill="#d3d3d3" stroke="none"/>
<path d="M436.8,600.3 L436.8,608 C437,613 443,616 450.3,616 C457,616 463.5,613 463.8,608 L463.8,600.3" fill="#ebeceb" stroke="#000" stroke-width="1.0" stroke-linejoin="round" stroke-linecap="round" />
<ellipse cx="450.3" cy="600.3" rx="13.5" ry="7" fill="#ebeceb" stroke="#000" stroke-width="1.0"/>
<ellipse cx="450.3" cy="599.5" rx="6.5" ry="3.3" fill="#ebeceb" stroke="#000" stroke-width="1.0"/>
<path d="M383.9,548 C384,539 384.5,532 385.5,525.4 C386.5,518 388.5,511 391.8,504.2 C395,497.5 399,491 404.5,485.1 C410,479 417,474 423.6,470.3 C430,466.5 437,463.5 443.8,462.9 C446.5,462.7 449.5,462.8 452.3,463.4" fill="none" stroke="#d3d3d3" stroke-width="7" stroke-linejoin="round" stroke-linecap="round" transform="translate(2,1.8)"/>
<path d="M383.9,548 C384,539 384.5,532 385.5,525.4 C386.5,518 388.5,511 391.8,504.2 C395,497.5 399,491 404.5,485.1 C410,479 417,474 423.6,470.3 C430,466.5 437,463.5 443.8,462.9 C446.5,462.7 449.5,462.8 452.3,463.4" fill="none" stroke="#000" stroke-width="0.7" stroke-linejoin="round" stroke-linecap="round" transform="translate(3.3,3)"/>
<path d="M377,560.4 C373.5,559.5 371.7,556 371.7,552 L372.2,530.7 C373,522 375,514 378,506.4 C382,498 386,491 391.8,485.1 C397,478 403,471 410.9,465 C418,459 426,454.5 434.2,451.2 C440,449 446,447.3 452.3,447 C457,446.7 462,448 466,450.1 C472,453 477,457 482,461.8 C487,467 490,472 491.5,477.7 C493,482 493.5,486 493.1,489.4 C492.7,493.5 492,496.5 490.4,498.9 C488.5,501.3 486,502.3 484.1,502.1 C481.5,501.5 479.5,500 478.8,497.9 C477.7,495.5 477.2,493.5 477.2,491.5 C476.5,487 475.5,483 474.5,479.8 C472.5,475.5 469.5,472.5 466,470.3 C462,467.5 457,464.5 452.3,463.4 C449.5,462.8 446.5,462.7 443.8,462.9 C437,463.5 430,466.5 423.6,470.3 C417,474 410,479 404.5,485.1 C399,491 395,497.5 391.8,504.2 C388.5,511 386.5,518 385.5,525.4 C384.5,532 384,539 383.9,546.6 L384.4,556.2 C384,558.5 382.5,560.4 380.1,560.4 Z" fill="#fff" stroke="#000" stroke-width="1.0" stroke-linejoin="round" stroke-linecap="round" />
<path d="M482,461.8 C487,467 490,472 491.5,477.7 C493,482 493.5,486 493.1,489.4 C492.7,493.5 492,496.5 490.4,498.9 C488.5,501.3 486,502.3 484.1,502.1 C487,500 489,497 489.6,493 C490,487 489,481 486.5,475 C485,470 483,466 480,462 Z" fill="#d3d3d3" stroke="#000" stroke-width="0.6" stroke-linejoin="round" stroke-linecap="round" />
<path d="M384.4,556.2 C384,558.5 382.5,560.4 380.1,560.4 L377,560.4 C379,559.5 381,558 381.8,555 L381.8,548 L383.9,546.6 Z" fill="#d3d3d3" stroke="#000" stroke-width="0.5" stroke-linejoin="round" stroke-linecap="round" />
<ellipse cx="433.2" cy="519.1" rx="7.4" ry="11.1" transform="rotate(20 433.2 519.1)" fill="#fff" stroke="#000" stroke-width="1.0"/>
<path d="M436.5,508.6 C440.5,510 441.5,516 439.5,522 C437.5,528 433,531 429,530 C432,528 435,523 436,518 C436.5,514 436.5,511 436.5,508.6 Z" fill="#d3d3d3" stroke="#000" stroke-width="0.5" stroke-linejoin="round" stroke-linecap="round" />
<path d="M596.4,557.4 C585,570 578,580 572.7,589 C565,602 559,612 555,622.4 L502.5,765" fill="none" stroke="#000" stroke-width="1.4" stroke-linejoin="round" stroke-linecap="round" />
<path d="M653.5,539.7 C625,541 600,553 585,572 C575,585 566,602 560,615 L510.7,764" fill="none" stroke="#000" stroke-width="1.0" stroke-linejoin="round" stroke-linecap="round" />
<path d="M580.5,656.6 C580.3,648 580.5,639 581.5,630.1 C583,621 586,613 590,605.7 C595,597 601,590 608,584.5 C615,579.5 622,576 629.2,573.9 C635.5,572 642,571.5 648.3,572.9" fill="none" stroke="#d3d3d3" stroke-width="7" stroke-linejoin="round" stroke-linecap="round" transform="translate(2,1.8)"/>
<path d="M580.5,656.6 C580.3,648 580.5,639 581.5,630.1 C583,621 586,613 590,605.7 C595,597 601,590 608,584.5 C615,579.5 622,576 629.2,573.9 C635.5,572 642,571.5 648.3,572.9" fill="none" stroke="#000" stroke-width="0.7" stroke-linejoin="round" stroke-linecap="round" transform="translate(3.3,3)"/>
<clipPath id="rsclip"><path d="M573.6,668.8 C570,668 567.7,664 567.7,659.8 L568.8,640.7 C570,631 572.5,622 576.2,614.2 C580,605 584.5,596.5 590,588.8 C597,580 604.5,573 613.3,567.6 C622,562 631,558 639.8,556.4 C644,555.6 648.5,555.2 652.6,555.4 C657.5,556 662,558.2 666.3,561.2 C672,565 676.5,569 680.1,573.9 C684,579.5 687,586 688.6,593 L688.6,601.5 C688,606 685.5,609.5 682.3,610 C679.5,610.5 677,609.5 675.9,607.9 C674,606 673,604 672.7,601.5 C672,597 671,592.5 669.5,588.8 C667,584.5 664,581.5 661,579.2 C657,576 652.5,574 648.3,572.9 C642,571.5 635.5,572 629.2,573.9 C622,576 615,579.5 608,584.5 C601,590 595,597 590,605.7 C586,613 583,621 581.5,630.1 C580.5,639 580.3,648 580.5,656.6 L579.4,665.1 C578.5,667.5 576.5,669 573.6,668.8 Z"/></clipPath>
<path d="M573.6,668.8 C570,668 567.7,664 567.7,659.8 L568.8,640.7 C570,631 572.5,622 576.2,614.2 C580,605 584.5,596.5 590,588.8 C597,580 604.5,573 613.3,567.6 C622,562 631,558 639.8,556.4 C644,555.6 648.5,555.2 652.6,555.4 C657.5,556 662,558.2 666.3,561.2 C672,565 676.5,569 680.1,573.9 C684,579.5 687,586 688.6,593 L688.6,601.5 C688,606 685.5,609.5 682.3,610 C679.5,610.5 677,609.5 675.9,607.9 C674,606 673,604 672.7,601.5 C672,597 671,592.5 669.5,588.8 C667,584.5 664,581.5 661,579.2 C657,576 652.5,574 648.3,572.9 C642,571.5 635.5,572 629.2,573.9 C622,576 615,579.5 608,584.5 C601,590 595,597 590,605.7 C586,613 583,621 581.5,630.1 C580.5,639 580.3,648 580.5,656.6 L579.4,665.1 C578.5,667.5 576.5,669 573.6,668.8 Z" fill="#fff" stroke="none" stroke-width="0" stroke-linejoin="round" stroke-linecap="round" />
<g clip-path="url(#rsclip)">
<path d="M596.4,557.4 L700,611 L700,700 L560,700 L560,540 Z" fill="#ebeceb" stroke="#000" stroke-width="0.9" stroke-linejoin="round" stroke-linecap="round" />
<path d="M560,586 L600,610 M560,612 L600,634 M560,618 L600,640" fill="none" stroke="#000" stroke-width="0.9" stroke-linejoin="round" stroke-linecap="round" />
</g>
<path d="M573.6,668.8 C570,668 567.7,664 567.7,659.8 L568.8,640.7 C570,631 572.5,622 576.2,614.2 C580,605 584.5,596.5 590,588.8 C597,580 604.5,573 613.3,567.6 C622,562 631,558 639.8,556.4 C644,555.6 648.5,555.2 652.6,555.4 C657.5,556 662,558.2 666.3,561.2 C672,565 676.5,569 680.1,573.9 C684,579.5 687,586 688.6,593 L688.6,601.5 C688,606 685.5,609.5 682.3,610 C679.5,610.5 677,609.5 675.9,607.9 C674,606 673,604 672.7,601.5 C672,597 671,592.5 669.5,588.8 C667,584.5 664,581.5 661,579.2 C657,576 652.5,574 648.3,572.9 C642,571.5 635.5,572 629.2,573.9 C622,576 615,579.5 608,584.5 C601,590 595,597 590,605.7 C586,613 583,621 581.5,630.1 C580.5,639 580.3,648 580.5,656.6 L579.4,665.1 C578.5,667.5 576.5,669 573.6,668.8 Z" fill="none" stroke="#000" stroke-width="1.0" stroke-linejoin="round" stroke-linecap="round" />
<path d="M666.3,561.2 C672,565 676.5,569 680.1,573.9 C684,579.5 687,586 688.6,593 L688.6,601.5 C688,606 685.5,609.5 682.3,610 C684,606 685,601 684.5,595 C683,586 679,578 673,571 C670,567 668,564 664,561.5 Z" fill="#d3d3d3" stroke="#000" stroke-width="0.6" stroke-linejoin="round" stroke-linecap="round" />
<ellipse cx="627.1" cy="627.5" rx="7.3" ry="11" transform="rotate(20 627.1 627.5)" fill="#fff" stroke="#000" stroke-width="1.0"/>
<path d="M630.4,617 C634.4,618.5 635.4,624.5 633.4,630.5 C631.4,636.5 627,639.5 623,638.5 C627,537.5 630.4,532.5 631.4,526.5 Z" fill="none" stroke="none" stroke-width="0" stroke-linejoin="round" stroke-linecap="round" />
<path d="M630.4,617 C634.4,618.5 635.4,624.5 633.4,630.5 C631.4,636.5 627,639.5 623,638.5 C627,637.5 630.4,632.5 631.4,626.5 C632,622.5 631.7,619.5 630.4,617 Z" fill="#d3d3d3" stroke="#000" stroke-width="0.5" stroke-linejoin="round" stroke-linecap="round" />
<path d="M580.6,724 L576.7,722 L576.7,698 C576.7,692 581,689.4 586,689.4 C591,689.4 595.4,693 595.4,699 L595.4,717" fill="none" stroke="#000" stroke-width="1.0" stroke-linejoin="round" stroke-linecap="round" />
<path d="M581,718 L580.5,699 C580.5,695 583,693 586,693" fill="none" stroke="#000" stroke-width="0.7" stroke-linejoin="round" stroke-linecap="round" />
<path d="M657,681 L653.5,679 L653.5,654 C653.5,648 658,645 662,645 C667,645 671.2,649 671.2,655 L671.2,672.6" fill="none" stroke="#000" stroke-width="1.0" stroke-linejoin="round" stroke-linecap="round" />
<path d="M658,675 L657.5,655 C657.5,651 660,649 662,649" fill="none" stroke="#000" stroke-width="0.7" stroke-linejoin="round" stroke-linecap="round" />
<line x1="387" y1="181.5" x2="387" y2="289" stroke="#fff" stroke-width="4.6"/>
<line x1="387" y1="181.5" x2="387" y2="289" stroke="#000" stroke-width="2" stroke-dasharray="9.138 8.779" stroke-dashoffset="-13.348"/>
<line x1="387" y1="302" x2="387" y2="412.7" stroke="#fff" stroke-width="4.6"/>
<line x1="387" y1="302" x2="387" y2="412.7" stroke="#000" stroke-width="2" stroke-dasharray="8.065 7.749" stroke-dashoffset="-11.782"/>
<line x1="387" y1="426" x2="387" y2="641" stroke="#fff" stroke-width="4.6"/>
<line x1="387" y1="426" x2="387" y2="641" stroke="#000" stroke-width="2" stroke-dasharray="8.435 8.104" stroke-dashoffset="-12.321"/>
<line x1="387" y1="711" x2="387" y2="918" stroke="#fff" stroke-width="4.6"/>
<line x1="387" y1="711" x2="387" y2="918" stroke="#000" stroke-width="2" stroke-dasharray="8.797 8.453" stroke-dashoffset="-12.851"/>
<line x1="518.5" y1="117" x2="518.5" y2="160" stroke="#fff" stroke-width="4.6"/>
<line x1="518.5" y1="117" x2="518.5" y2="160" stroke="#000" stroke-width="2" stroke-dasharray="7.310 7.023" stroke-dashoffset="-10.678"/>
<line x1="518.5" y1="215" x2="518.5" y2="259" stroke="#fff" stroke-width="4.6"/>
<line x1="518.5" y1="215" x2="518.5" y2="259" stroke="#000" stroke-width="2" stroke-dasharray="7.480 7.187" stroke-dashoffset="-10.927"/>
<line x1="518.5" y1="272" x2="518.5" y2="323.5" stroke="#fff" stroke-width="4.6"/>
<line x1="518.5" y1="272" x2="518.5" y2="323.5" stroke="#000" stroke-width="2" stroke-dasharray="8.755 8.412" stroke-dashoffset="-12.789"/>
<line x1="518.5" y1="336.5" x2="518.5" y2="385.5" stroke="#fff" stroke-width="4.6"/>
<line x1="518.5" y1="336.5" x2="518.5" y2="385.5" stroke="#000" stroke-width="2" stroke-dasharray="8.330 8.003" stroke-dashoffset="-12.168"/>
<line x1="518.5" y1="400" x2="518.5" y2="446.5" stroke="#fff" stroke-width="4.6"/>
<line x1="518.5" y1="400" x2="518.5" y2="446.5" stroke="#000" stroke-width="2" stroke-dasharray="7.905 7.595" stroke-dashoffset="-11.547"/>
<line x1="518.5" y1="460" x2="518.5" y2="714" stroke="#fff" stroke-width="4.6"/>
<line x1="518.5" y1="460" x2="518.5" y2="714" stroke="#000" stroke-width="2" stroke-dasharray="8.636 8.297" stroke-dashoffset="-12.615"/>
<line x1="518.5" y1="768" x2="518.5" y2="988" stroke="#fff" stroke-width="4.6"/>
<line x1="518.5" y1="768" x2="518.5" y2="988" stroke="#000" stroke-width="2" stroke-dasharray="8.631 8.292" stroke-dashoffset="-12.608"/>
<line x1="651" y1="557" x2="651" y2="570" stroke="#000" stroke-width="2"/>
<g transform="translate(387,130)"><path d="M-8.2,14 L-8.2,43 C-8.2,48 -4,50 0,50 C4,50 8.2,48 8.2,43 L8.2,14 Z" fill="#c4c4c4" stroke="none"/><path d="M-7.5,20.2 C-4.5,16.7 4.5,16.7 7.5,20.2" fill="none" stroke="#8c8c8c" stroke-width="0.9"/><path d="M-6.5,21.4 C-3.5,18.3 3.5,18.3 6.5,21.4" fill="none" stroke="#e2e2e2" stroke-width="0.9"/><path d="M-7.5,23.6 C-4.5,20.1 4.5,20.1 7.5,23.6" fill="none" stroke="#8c8c8c" stroke-width="0.9"/><path d="M-6.5,24.8 C-3.5,21.7 3.5,21.7 6.5,24.8" fill="none" stroke="#e2e2e2" stroke-width="0.9"/><path d="M-7.5,27.0 C-4.5,23.5 4.5,23.5 7.5,27.0" fill="none" stroke="#8c8c8c" stroke-width="0.9"/><path d="M-6.5,28.2 C-3.5,25.1 3.5,25.1 6.5,28.2" fill="none" stroke="#e2e2e2" stroke-width="0.9"/><path d="M-7.5,30.4 C-4.5,26.9 4.5,26.9 7.5,30.4" fill="none" stroke="#8c8c8c" stroke-width="0.9"/><path d="M-6.5,31.6 C-3.5,28.5 3.5,28.5 6.5,31.6" fill="none" stroke="#e2e2e2" stroke-width="0.9"/><path d="M-7.5,33.8 C-4.5,30.3 4.5,30.3 7.5,33.8" fill="none" stroke="#8c8c8c" stroke-width="0.9"/><path d="M-6.5,35.0 C-3.5,31.9 3.5,31.9 6.5,35.0" fill="none" stroke="#e2e2e2" stroke-width="0.9"/><path d="M-7.5,37.2 C-4.5,33.7 4.5,33.7 7.5,37.2" fill="none" stroke="#8c8c8c" stroke-width="0.9"/><path d="M-6.5,38.4 C-3.5,35.3 3.5,35.3 6.5,38.4" fill="none" stroke="#e2e2e2" stroke-width="0.9"/><path d="M-7.5,40.6 C-4.5,37.1 4.5,37.1 7.5,40.6" fill="none" stroke="#8c8c8c" stroke-width="0.9"/><path d="M-6.5,41.8 C-3.5,38.7 3.5,38.7 6.5,41.8" fill="none" stroke="#e2e2e2" stroke-width="0.9"/><path d="M-7.5,44.0 C-4.5,40.5 4.5,40.5 7.5,44.0" fill="none" stroke="#8c8c8c" stroke-width="0.9"/><path d="M-6.5,45.2 C-3.5,42.1 3.5,42.1 6.5,45.2" fill="none" stroke="#e2e2e2" stroke-width="0.9"/><path d="M-7.5,47.4 C-4.5,43.9 4.5,43.9 7.5,47.4" fill="none" stroke="#8c8c8c" stroke-width="0.9"/><path d="M-6.5,48.6 C-3.5,45.5 3.5,45.5 6.5,48.6" fill="none" stroke="#e2e2e2" stroke-width="0.9"/><path d="M-8.2,14 L-8.2,43 C-8.2,48 -4,50 0,50 C4,50 8.2,48 8.2,43 L8.2,14" fill="none" stroke="#000" stroke-width="1.4"/><path d="M-13,8.5 C-13,3 -7,0 0,0 C7,0 13,3 13,8.5 L13,13 C13,16.5 7,18.5 0,18.5 C-7,18.5 -13,16.5 -13,13 Z" fill="#e6e6e6" stroke="#000" stroke-width="1.4"/><path d="M-12.3,12 C-8,15.5 8,15.5 12.3,12" fill="none" stroke="#aaa" stroke-width="1.5"/><path d="M-5.5,6.5 C-3,4 -1,2.5 1,1.5 M-1.5,1.8 C1,3 3,5 4,7" fill="none" stroke="#555" stroke-width="2.2" stroke-linecap="round"/><path d="M-5.5,6.5 C-3,4 -1,2.5 1,1.5 M-1.5,1.8 C1,3 3,5 4,7" fill="none" stroke="#e6e6e6" stroke-width="0.9" stroke-linecap="round"/></g>
<g transform="translate(518.5,65.7)"><path d="M-8.2,14 L-8.2,43 C-8.2,48 -4,50 0,50 C4,50 8.2,48 8.2,43 L8.2,14 Z" fill="#c4c4c4" stroke="none"/><path d="M-7.5,20.2 C-4.5,16.7 4.5,16.7 7.5,20.2" fill="none" stroke="#8c8c8c" stroke-width="0.9"/><path d="M-6.5,21.4 C-3.5,18.3 3.5,18.3 6.5,21.4" fill="none" stroke="#e2e2e2" stroke-width="0.9"/><path d="M-7.5,23.6 C-4.5,20.1 4.5,20.1 7.5,23.6" fill="none" stroke="#8c8c8c" stroke-width="0.9"/><path d="M-6.5,24.8 C-3.5,21.7 3.5,21.7 6.5,24.8" fill="none" stroke="#e2e2e2" stroke-width="0.9"/><path d="M-7.5,27.0 C-4.5,23.5 4.5,23.5 7.5,27.0" fill="none" stroke="#8c8c8c" stroke-width="0.9"/><path d="M-6.5,28.2 C-3.5,25.1 3.5,25.1 6.5,28.2" fill="none" stroke="#e2e2e2" stroke-width="0.9"/><path d="M-7.5,30.4 C-4.5,26.9 4.5,26.9 7.5,30.4" fill="none" stroke="#8c8c8c" stroke-width="0.9"/><path d="M-6.5,31.6 C-3.5,28.5 3.5,28.5 6.5,31.6" fill="none" stroke="#e2e2e2" stroke-width="0.9"/><path d="M-7.5,33.8 C-4.5,30.3 4.5,30.3 7.5,33.8" fill="none" stroke="#8c8c8c" stroke-width="0.9"/><path d="M-6.5,35.0 C-3.5,31.9 3.5,31.9 6.5,35.0" fill="none" stroke="#e2e2e2" stroke-width="0.9"/><path d="M-7.5,37.2 C-4.5,33.7 4.5,33.7 7.5,37.2" fill="none" stroke="#8c8c8c" stroke-width="0.9"/><path d="M-6.5,38.4 C-3.5,35.3 3.5,35.3 6.5,38.4" fill="none" stroke="#e2e2e2" stroke-width="0.9"/><path d="M-7.5,40.6 C-4.5,37.1 4.5,37.1 7.5,40.6" fill="none" stroke="#8c8c8c" stroke-width="0.9"/><path d="M-6.5,41.8 C-3.5,38.7 3.5,38.7 6.5,41.8" fill="none" stroke="#e2e2e2" stroke-width="0.9"/><path d="M-7.5,44.0 C-4.5,40.5 4.5,40.5 7.5,44.0" fill="none" stroke="#8c8c8c" stroke-width="0.9"/><path d="M-6.5,45.2 C-3.5,42.1 3.5,42.1 6.5,45.2" fill="none" stroke="#e2e2e2" stroke-width="0.9"/><path d="M-7.5,47.4 C-4.5,43.9 4.5,43.9 7.5,47.4" fill="none" stroke="#8c8c8c" stroke-width="0.9"/><path d="M-6.5,48.6 C-3.5,45.5 3.5,45.5 6.5,48.6" fill="none" stroke="#e2e2e2" stroke-width="0.9"/><path d="M-8.2,14 L-8.2,43 C-8.2,48 -4,50 0,50 C4,50 8.2,48 8.2,43 L8.2,14" fill="none" stroke="#000" stroke-width="1.4"/><path d="M-13,8.5 C-13,3 -7,0 0,0 C7,0 13,3 13,8.5 L13,13 C13,16.5 7,18.5 0,18.5 C-7,18.5 -13,16.5 -13,13 Z" fill="#e6e6e6" stroke="#000" stroke-width="1.4"/><path d="M-12.3,12 C-8,15.5 8,15.5 12.3,12" fill="none" stroke="#aaa" stroke-width="1.5"/><path d="M-5.5,6.5 C-3,4 -1,2.5 1,1.5 M-1.5,1.8 C1,3 3,5 4,7" fill="none" stroke="#555" stroke-width="2.2" stroke-linecap="round"/><path d="M-5.5,6.5 C-3,4 -1,2.5 1,1.5 M-1.5,1.8 C1,3 3,5 4,7" fill="none" stroke="#e6e6e6" stroke-width="0.9" stroke-linecap="round"/></g>
<g transform="translate(518.5,163)"><path d="M-8.2,14 L-8.2,43 C-8.2,48 -4,50 0,50 C4,50 8.2,48 8.2,43 L8.2,14 Z" fill="#c4c4c4" stroke="none"/><path d="M-7.5,20.2 C-4.5,16.7 4.5,16.7 7.5,20.2" fill="none" stroke="#8c8c8c" stroke-width="0.9"/><path d="M-6.5,21.4 C-3.5,18.3 3.5,18.3 6.5,21.4" fill="none" stroke="#e2e2e2" stroke-width="0.9"/><path d="M-7.5,23.6 C-4.5,20.1 4.5,20.1 7.5,23.6" fill="none" stroke="#8c8c8c" stroke-width="0.9"/><path d="M-6.5,24.8 C-3.5,21.7 3.5,21.7 6.5,24.8" fill="none" stroke="#e2e2e2" stroke-width="0.9"/><path d="M-7.5,27.0 C-4.5,23.5 4.5,23.5 7.5,27.0" fill="none" stroke="#8c8c8c" stroke-width="0.9"/><path d="M-6.5,28.2 C-3.5,25.1 3.5,25.1 6.5,28.2" fill="none" stroke="#e2e2e2" stroke-width="0.9"/><path d="M-7.5,30.4 C-4.5,26.9 4.5,26.9 7.5,30.4" fill="none" stroke="#8c8c8c" stroke-width="0.9"/><path d="M-6.5,31.6 C-3.5,28.5 3.5,28.5 6.5,31.6" fill="none" stroke="#e2e2e2" stroke-width="0.9"/><path d="M-7.5,33.8 C-4.5,30.3 4.5,30.3 7.5,33.8" fill="none" stroke="#8c8c8c" stroke-width="0.9"/><path d="M-6.5,35.0 C-3.5,31.9 3.5,31.9 6.5,35.0" fill="none" stroke="#e2e2e2" stroke-width="0.9"/><path d="M-7.5,37.2 C-4.5,33.7 4.5,33.7 7.5,37.2" fill="none" stroke="#8c8c8c" stroke-width="0.9"/><path d="M-6.5,38.4 C-3.5,35.3 3.5,35.3 6.5,38.4" fill="none" stroke="#e2e2e2" stroke-width="0.9"/><path d="M-7.5,40.6 C-4.5,37.1 4.5,37.1 7.5,40.6" fill="none" stroke="#8c8c8c" stroke-width="0.9"/><path d="M-6.5,41.8 C-3.5,38.7 3.5,38.7 6.5,41.8" fill="none" stroke="#e2e2e2" stroke-width="0.9"/><path d="M-7.5,44.0 C-4.5,40.5 4.5,40.5 7.5,44.0" fill="none" stroke="#8c8c8c" stroke-width="0.9"/><path d="M-6.5,45.2 C-3.5,42.1 3.5,42.1 6.5,45.2" fill="none" stroke="#e2e2e2" stroke-width="0.9"/><path d="M-7.5,47.4 C-4.5,43.9 4.5,43.9 7.5,47.4" fill="none" stroke="#8c8c8c" stroke-width="0.9"/><path d="M-6.5,48.6 C-3.5,45.5 3.5,45.5 6.5,48.6" fill="none" stroke="#e2e2e2" stroke-width="0.9"/><path d="M-8.2,14 L-8.2,43 C-8.2,48 -4,50 0,50 C4,50 8.2,48 8.2,43 L8.2,14" fill="none" stroke="#000" stroke-width="1.4"/><path d="M-13,8.5 C-13,3 -7,0 0,0 C7,0 13,3 13,8.5 L13,13 C13,16.5 7,18.5 0,18.5 C-7,18.5 -13,16.5 -13,13 Z" fill="#e6e6e6" stroke="#000" stroke-width="1.4"/><path d="M-12.3,12 C-8,15.5 8,15.5 12.3,12" fill="none" stroke="#aaa" stroke-width="1.5"/><path d="M-5.5,6.5 C-3,4 -1,2.5 1,1.5 M-1.5,1.8 C1,3 3,5 4,7" fill="none" stroke="#555" stroke-width="2.2" stroke-linecap="round"/><path d="M-5.5,6.5 C-3,4 -1,2.5 1,1.5 M-1.5,1.8 C1,3 3,5 4,7" fill="none" stroke="#e6e6e6" stroke-width="0.9" stroke-linecap="round"/></g>
<g transform="translate(651,131)"><path d="M-8.2,14 L-8.2,43 C-8.2,48 -4,50 0,50 C4,50 8.2,48 8.2,43 L8.2,14 Z" fill="#c4c4c4" stroke="none"/><path d="M-7.5,20.2 C-4.5,16.7 4.5,16.7 7.5,20.2" fill="none" stroke="#8c8c8c" stroke-width="0.9"/><path d="M-6.5,21.4 C-3.5,18.3 3.5,18.3 6.5,21.4" fill="none" stroke="#e2e2e2" stroke-width="0.9"/><path d="M-7.5,23.6 C-4.5,20.1 4.5,20.1 7.5,23.6" fill="none" stroke="#8c8c8c" stroke-width="0.9"/><path d="M-6.5,24.8 C-3.5,21.7 3.5,21.7 6.5,24.8" fill="none" stroke="#e2e2e2" stroke-width="0.9"/><path d="M-7.5,27.0 C-4.5,23.5 4.5,23.5 7.5,27.0" fill="none" stroke="#8c8c8c" stroke-width="0.9"/><path d="M-6.5,28.2 C-3.5,25.1 3.5,25.1 6.5,28.2" fill="none" stroke="#e2e2e2" stroke-width="0.9"/><path d="M-7.5,30.4 C-4.5,26.9 4.5,26.9 7.5,30.4" fill="none" stroke="#8c8c8c" stroke-width="0.9"/><path d="M-6.5,31.6 C-3.5,28.5 3.5,28.5 6.5,31.6" fill="none" stroke="#e2e2e2" stroke-width="0.9"/><path d="M-7.5,33.8 C-4.5,30.3 4.5,30.3 7.5,33.8" fill="none" stroke="#8c8c8c" stroke-width="0.9"/><path d="M-6.5,35.0 C-3.5,31.9 3.5,31.9 6.5,35.0" fill="none" stroke="#e2e2e2" stroke-width="0.9"/><path d="M-7.5,37.2 C-4.5,33.7 4.5,33.7 7.5,37.2" fill="none" stroke="#8c8c8c" stroke-width="0.9"/><path d="M-6.5,38.4 C-3.5,35.3 3.5,35.3 6.5,38.4" fill="none" stroke="#e2e2e2" stroke-width="0.9"/><path d="M-7.5,40.6 C-4.5,37.1 4.5,37.1 7.5,40.6" fill="none" stroke="#8c8c8c" stroke-width="0.9"/><path d="M-6.5,41.8 C-3.5,38.7 3.5,38.7 6.5,41.8" fill="none" stroke="#e2e2e2" stroke-width="0.9"/><path d="M-7.5,44.0 C-4.5,40.5 4.5,40.5 7.5,44.0" fill="none" stroke="#8c8c8c" stroke-width="0.9"/><path d="M-6.5,45.2 C-3.5,42.1 3.5,42.1 6.5,45.2" fill="none" stroke="#e2e2e2" stroke-width="0.9"/><path d="M-7.5,47.4 C-4.5,43.9 4.5,43.9 7.5,47.4" fill="none" stroke="#8c8c8c" stroke-width="0.9"/><path d="M-6.5,48.6 C-3.5,45.5 3.5,45.5 6.5,48.6" fill="none" stroke="#e2e2e2" stroke-width="0.9"/><path d="M-8.2,14 L-8.2,43 C-8.2,48 -4,50 0,50 C4,50 8.2,48 8.2,43 L8.2,14" fill="none" stroke="#000" stroke-width="1.4"/><path d="M-13,8.5 C-13,3 -7,0 0,0 C7,0 13,3 13,8.5 L13,13 C13,16.5 7,18.5 0,18.5 C-7,18.5 -13,16.5 -13,13 Z" fill="#e6e6e6" stroke="#000" stroke-width="1.4"/><path d="M-12.3,12 C-8,15.5 8,15.5 12.3,12" fill="none" stroke="#aaa" stroke-width="1.5"/><path d="M-5.5,6.5 C-3,4 -1,2.5 1,1.5 M-1.5,1.8 C1,3 3,5 4,7" fill="none" stroke="#555" stroke-width="2.2" stroke-linecap="round"/><path d="M-5.5,6.5 C-3,4 -1,2.5 1,1.5 M-1.5,1.8 C1,3 3,5 4,7" fill="none" stroke="#e6e6e6" stroke-width="0.9" stroke-linecap="round"/></g>
<path d="M725,99 L661,135.6 M724.7,251 L664,284.8 M724.7,375.8 L666,408" stroke="#000" stroke-width="2" fill="none"/>
<text x="731.5" y="102" font-size="31" textLength="102" lengthAdjust="spacingAndGlyphs" fill="#000">M6L16</text>
<text x="735" y="246.8" font-size="31.5" textLength="171" lengthAdjust="spacingAndGlyphs" fill="#000">Lock washer</text>
<text x="732.5" y="374.8" font-size="32" textLength="106.5" lengthAdjust="spacingAndGlyphs" fill="#000">Washer</text>
<text transform="translate(1002,1177.5) rotate(-90)" font-size="23.5" textLength="90" lengthAdjust="spacingAndGlyphs" fill="#000">g102553</text>
</svg></body></html>
